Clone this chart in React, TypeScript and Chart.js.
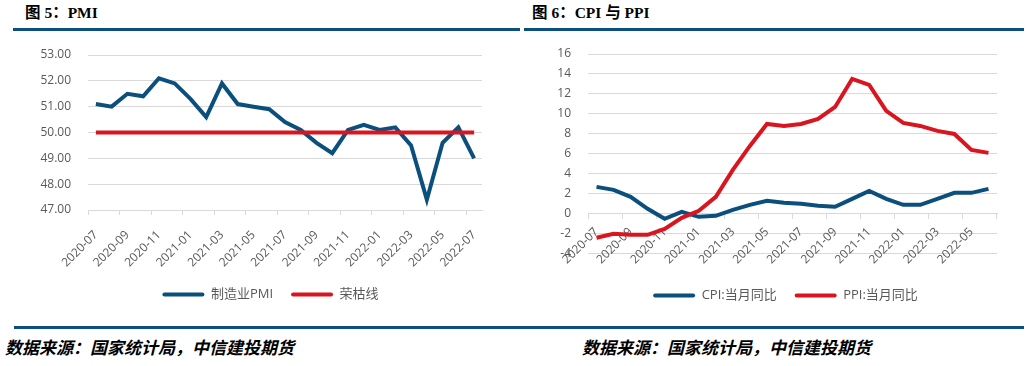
import React, { useEffect, useRef } from "react";
import { Chart, registerables } from "chart.js";

Chart.register(...registerables);

// ---------- data ----------
const pmiMonths = [
  "2020-07", "2020-08", "2020-09", "2020-10", "2020-11", "2020-12",
  "2021-01", "2021-02", "2021-03", "2021-04", "2021-05", "2021-06",
  "2021-07", "2021-08", "2021-09", "2021-10", "2021-11", "2021-12",
  "2022-01", "2022-02", "2022-03", "2022-04", "2022-05", "2022-06", "2022-07",
];
const pmiValues = [
  51.1, 51.0, 51.5, 51.4, 52.1, 51.9, 51.3, 50.6, 51.9, 51.1, 51.0, 50.9,
  50.4, 50.1, 49.6, 49.2, 50.1, 50.3, 50.1, 50.2, 49.5, 47.4, 49.6, 50.2, 49.0,
];
const boomBustLine = [
  50, 50, 50, 50, 50, 50, 50, 50, 50, 50, 50, 50, 50,
  50, 50, 50, 50, 50, 50, 50, 50, 50, 50, 50, 50,
];
const pmiTicks = [47, 48, 49, 50, 51, 52, 53];

const priceMonths = [
  "2020-07", "2020-08", "2020-09", "2020-10", "2020-11", "2020-12",
  "2021-01", "2021-02", "2021-03", "2021-04", "2021-05", "2021-06",
  "2021-07", "2021-08", "2021-09", "2021-10", "2021-11", "2021-12",
  "2022-01", "2022-02", "2022-03", "2022-04", "2022-05", "2022-06",
];
const cpiValues = [
  2.7, 2.4, 1.7, 0.5, -0.5, 0.2, -0.3, -0.2, 0.4, 0.9, 1.3, 1.1,
  1.0, 0.8, 0.7, 1.5, 2.3, 1.5, 0.9, 0.9, 1.5, 2.1, 2.1, 2.5,
];
const ppiValues = [
  -2.4, -2.0, -2.1, -2.1, -1.5, -0.4, 0.3, 1.7, 4.4, 6.8, 9.0, 8.8,
  9.0, 9.5, 10.7, 13.5, 12.9, 10.3, 9.1, 8.8, 8.3, 8.0, 6.4, 6.1,
];
const priceTicks = [-4, -2, 0, 2, 4, 6, 8, 10, 12, 14, 16];

// ---------- styles ----------
const FONT = '"Open Sans", "Noto Sans CJK SC", sans-serif';
const GRID = "#d9d9d9";
const TEXT = "#595959";
const BLUE = "#0b4f7d";
const RED = "#d9161f";
const RULE = "#0b4f7d";
const CLEAR = "rgba(0,0,0,0)";

function legendItems(chart: any) {
  const items = Chart.defaults.plugins.legend.labels.generateLabels(chart);
  return items
    .sort((a: any, b: any) => a.datasetIndex - b.datasetIndex)
    .map((it: any) => ({ ...it, lineWidth: 0, borderRadius: 2 }));
}

const legendLabels = {
  boxWidth: 42,
  boxHeight: 4,
  padding: 18,
  color: TEXT,
  font: { family: FONT, size: 13 },
  generateLabels: legendItems,
};

function spacerAxis(width: number): any {
  return {
    type: "linear",
    position: "right",
    display: true,
    grid: { display: false },
    border: { display: false },
    ticks: { display: false },
    afterFit: (s: any) => {
      s.width = width;
    },
  };
}

function yAxis(min: number, max: number, ticks: number[], width: number, fmt: (v: number) => string): any {
  return {
    min,
    max,
    afterFit: (s: any) => {
      s.width = width;
    },
    afterBuildTicks: (s: any) => {
      s.ticks = ticks.map((v) => ({ value: v }));
    },
    grid: { color: GRID, lineWidth: 1, drawTicks: true, tickLength: 17, tickColor: CLEAR },
    border: { display: false },
    ticks: {
      padding: 0,
      color: TEXT,
      font: { family: FONT, size: 12 },
      callback: (v: any) => fmt(Number(v)),
    },
  };
}

function makePmiConfig(): any {
  return {
    type: "line",
    data: {
      labels: pmiMonths,
      datasets: [
        {
          label: "制造业PMI",
          data: pmiValues,
          borderColor: BLUE,
          backgroundColor: BLUE,
          borderWidth: 4,
          pointRadius: 0,
          tension: 0,
          order: 1,
        },
        {
          label: "荣枯线",
          data: boomBustLine,
          borderColor: RED,
          backgroundColor: RED,
          borderWidth: 4,
          pointRadius: 0,
          tension: 0,
          order: 0,
        },
      ],
    },
    options: {
      responsive: false,
      animation: false,
      layout: { padding: { left: 0, right: 0, top: 15, bottom: 9 } },
      plugins: {
        tooltip: { enabled: false },
        legend: { position: "bottom", labels: legendLabels },
      },
      scales: {
        x: {
          type: "category",
          offset: true,
          afterFit: (s: any) => {
            s.height = 60;
          },
          grid: {
            offset: true,
            drawOnChartArea: false,
            tickLength: 5,
            tickColor: (ctx: any) =>
              ctx.index !== undefined && ctx.index % 2 === 0 ? GRID : CLEAR,
          },
          border: { color: GRID, width: 1 },
          ticks: {
            autoSkip: false,
            maxRotation: 45,
            minRotation: 45,
            padding: 13,
            color: TEXT,
            font: { family: FONT, size: 12 },
            callback: (_v: any, i: number) => (i % 2 === 0 ? pmiMonths[i] : ""),
          },
        },
        y: yAxis(47, 53, pmiTicks, 88, (v) => v.toFixed(2)),
        spacer: spacerAxis(59),
      },
    },
  };
}

function makePriceConfig(): any {
  return {
    type: "line",
    data: {
      labels: priceMonths,
      datasets: [
        {
          label: "CPI:当月同比",
          data: cpiValues,
          borderColor: BLUE,
          backgroundColor: BLUE,
          borderWidth: 4,
          pointRadius: 0,
          tension: 0,
          order: 1,
        },
        {
          label: "PPI:当月同比",
          data: ppiValues,
          borderColor: RED,
          backgroundColor: RED,
          borderWidth: 4,
          pointRadius: 0,
          tension: 0,
          order: 0,
        },
      ],
    },
    options: {
      responsive: false,
      animation: false,
      layout: { padding: { left: 0, right: 0, top: 14, bottom: 8 } },
      plugins: {
        tooltip: { enabled: false },
        legend: {
          position: "bottom",
          title: { display: true, text: "", font: { size: 1 }, padding: { top: 16, bottom: 0 } },
          labels: legendLabels,
        },
      },
      scales: {
        x: {
          type: "category",
          position: { y: 0 },
          offset: true,
          grid: {
            offset: true,
            drawOnChartArea: false,
            tickLength: 5,
            tickColor: (ctx: any) =>
              ctx.index === undefined || ctx.index % 2 === 0 ? GRID : CLEAR,
          },
          border: { color: GRID, width: 1 },
          ticks: {
            autoSkip: false,
            maxRotation: 45,
            minRotation: 45,
            padding: 6,
            color: TEXT,
            font: { family: FONT, size: 12 },
            callback: (_v: any, i: number) => (i % 2 === 0 ? priceMonths[i] : ""),
          },
        },
        y: yAxis(-4, 16, priceTicks, 68, (v) => String(v)),
        spacer: spacerAxis(54),
      },
    },
  };
}

const titleStyle = (left: number): React.CSSProperties => ({
  position: "absolute",
  left,
  top: 3,
  fontFamily: '"Liberation Serif", "Noto Sans CJK SC", serif',
  fontWeight: "bold",
  fontSize: 15.5,
  lineHeight: "20px",
  color: "#000",
  whiteSpace: "nowrap",
});

const sourceStyle = (left: number): React.CSSProperties => ({
  position: "absolute",
  left,
  top: 337,
  fontFamily: '"Noto Sans CJK SC", sans-serif',
  fontWeight: "bold",
  fontStyle: "italic",
  fontSize: 17,
  lineHeight: "20px",
  color: "#000",
  whiteSpace: "nowrap",
});

const rule = (left: number, top: number, width: number): React.CSSProperties => ({
  position: "absolute",
  left,
  top,
  width,
  height: 3,
  background: RULE,
});

export default function App() {
  const c1 = useRef<HTMLCanvasElement>(null);
  const c2 = useRef<HTMLCanvasElement>(null);

  useEffect(() => {
    const ch1 = new Chart(c1.current as HTMLCanvasElement, makePmiConfig());
    const ch2 = new Chart(c2.current as HTMLCanvasElement, makePriceConfig());
    return () => {
      ch1.destroy();
      ch2.destroy();
    };
  }, []);

  return (
    <div
      style={{
        position: "absolute",
        left: 0,
        top: 0,
        width: 1028,
        height: 366,
        background: "#fff",
        overflow: "hidden",
      }}
    >
      <div style={titleStyle(25)}>图 5：PMI</div>
      <div style={titleStyle(532)}>图 6：CPI 与 PPI</div>
      <div style={rule(13, 28, 507)} />
      <div style={rule(524, 28, 500)} />
      <canvas
        ref={c1}
        width={541}
        height={280}
        style={{ position: "absolute", left: 0, top: 40, width: 541, height: 280 }}
      />
      <canvas
        ref={c2}
        width={531}
        height={280}
        style={{ position: "absolute", left: 520, top: 40, width: 531, height: 280 }}
      />
      <div style={rule(14, 326, 1010)} />
      <div style={sourceStyle(5)}>数据来源：国家统计局，中信建投期货</div>
      <div style={sourceStyle(582)}>数据来源：国家统计局，中信建投期货</div>
    </div>
  );
}
